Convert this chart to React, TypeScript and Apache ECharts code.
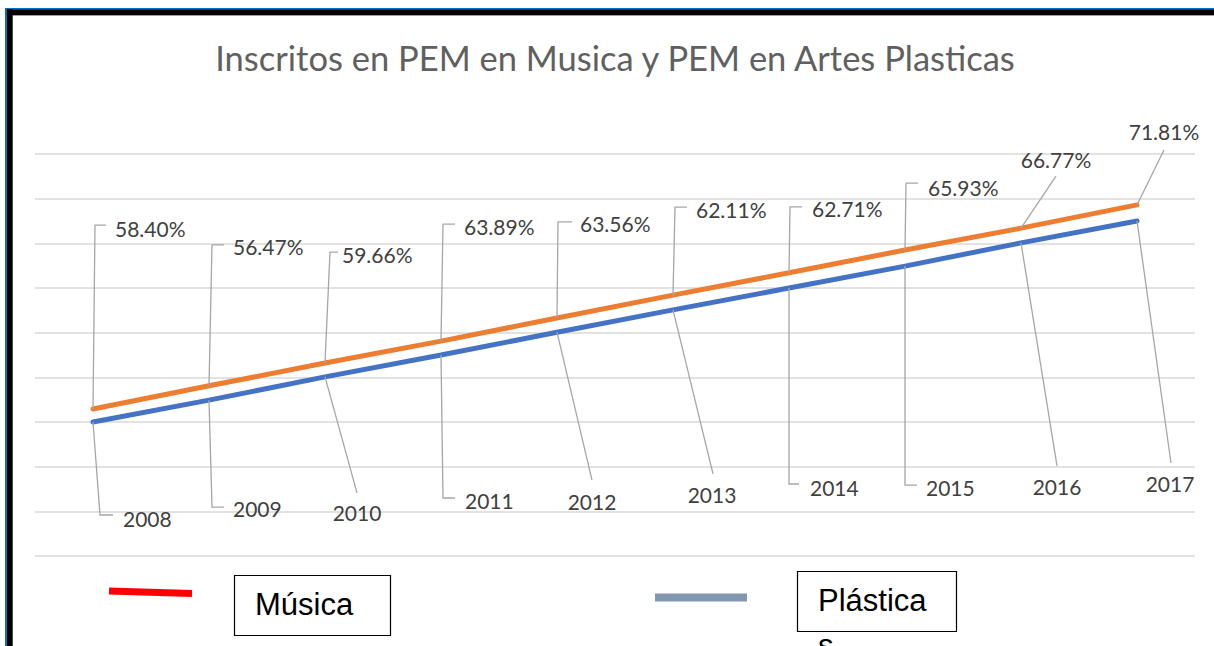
import React, { useEffect, useRef } from "react";
import * as echarts from "echarts";

const CATEGORIES = ["2008", "2009", "2010", "2011", "2012", "2013", "2014", "2015", "2016", "2017"];
const MUSICA = [32.9, 38.1, 43.2, 48.1, 53.3, 58.4, 63.4, 68.5, 73.4, 78.6];
const PLASTICA = [30.0, 34.9, 40.1, 45.0, 50.1, 55.1, 60.0, 64.9, 70.1, 75.0];
const PCT_LABELS = ["58.40%", "56.47%", "59.66%", "63.89%", "63.56%", "62.11%", "62.71%", "65.93%", "66.77%", "71.81%"];
const YEAR_LABELS = CATEGORIES;
const Y_MIN = 0;
const Y_MAX = 90;
const Y_STEP = 10;

// label placement (offsets relative to the data point, px)
type Lay = { k: "e" | "d"; lx: number; ly: number; h?: number; tx: number; ty: number };
const PCT_LAYOUT: Lay[] = [
  { k: "e", lx: 2, ly: -184, h: 11, tx: 22, ty: -181 },
  { k: "e", lx: 3, ly: -141, h: 12, tx: 24, ty: -139 },
  { k: "e", lx: 5, ly: -111, h: 8, tx: 17, ty: -109 },
  { k: "e", lx: 2, ly: -117, h: 12, tx: 23, ty: -115 },
  { k: "e", lx: 1, ly: -96, h: 14, tx: 23, ty: -94 },
  { k: "e", lx: 2, ly: -88, h: 12, tx: 23, ty: -86 },
  { k: "e", lx: 1, ly: -66, h: 12, tx: 23, ty: -64 },
  { k: "e", lx: 1, ly: -67, h: 12, tx: 23, ty: -63 },
  { k: "d", lx: 35, ly: -52, tx: 35, ty: -69 },
  { k: "d", lx: 27, ly: -55, tx: 27, ty: -73 },
];
const YEAR_LAYOUT: Lay[] = [
  { k: "e", lx: 7, ly: 93, h: 13, tx: 30, ty: 96 },
  { k: "e", lx: 3, ly: 107, h: 12, tx: 24, ty: 108 },
  { k: "d", lx: 32, ly: 116, tx: 32, ty: 136 },
  { k: "e", lx: 2, ly: 143, h: 12, tx: 24, ty: 145 },
  { k: "d", lx: 35, ly: 148, tx: 35, ty: 169 },
  { k: "d", lx: 40, ly: 164, tx: 39, ty: 185 },
  { k: "e", lx: 0, ly: 196, h: 10, tx: 21, ty: 199 },
  { k: "e", lx: 0, ly: 219, h: 12, tx: 21, ty: 221 },
  { k: "d", lx: 36, ly: 223, tx: 36, ty: 244 },
  { k: "d", lx: 34, ly: 242, tx: 33, ty: 262 },
];

const LABEL_FONT = "Lato";

function makeLabelRenderer(texts: string[], layout: Lay[]) {
  return (params: any, api: any) => {
    const i = api.value(0);
    const v = api.value(1);
    const p = api.coord([i, v]);
    const L = layout[params.dataIndex];
    const cx = p[0] + L.lx;
    const cy = p[1] + L.ly;
    const pts =
      L.k === "e"
        ? [
            [p[0], p[1]],
            [cx, cy],
            [cx + (L.h || 0), cy],
          ]
        : [
            [p[0], p[1]],
            [cx, cy],
          ];
    return {
      type: "group",
      children: [
        {
          type: "polyline",
          shape: { points: pts },
          style: { stroke: "#a6a6a6", lineWidth: 1.3, fill: null },
        },
        {
          type: "text",
          x: p[0] + L.tx,
          y: p[1] + L.ty,
          style: {
            text: texts[params.dataIndex],
            fontSize: 21,
            fontFamily: LABEL_FONT,
            fill: "#404040",
            align: L.k === "e" ? "left" : "center",
            verticalAlign: "middle",
          },
        },
      ],
    };
  };
}

export default function App() {
  const ref = useRef<HTMLDivElement>(null);
  useEffect(() => {
    if (!ref.current) return;
    const chart = echarts.init(ref.current, null, { renderer: "svg" });
    const option: any = {
      animation: false,
      backgroundColor: "#ffffff",
      grid: { left: 35, top: 154, width: 1160, height: 402 },
      xAxis: {
        type: "category",
        data: CATEGORIES,
        boundaryGap: true,
        axisLine: { show: false },
        axisTick: { show: false },
        axisLabel: { show: false },
        splitLine: { show: false },
      },
      yAxis: {
        type: "value",
        min: Y_MIN,
        max: Y_MAX,
        interval: Y_STEP,
        axisLine: { show: false },
        axisTick: { show: false },
        axisLabel: { show: false },
        splitLine: { show: true, lineStyle: { color: "#d9d9d9", width: 1.5 } },
      },
      series: [
        {
          name: "Plástica",
          type: "line",
          data: PLASTICA,
          symbol: "none",
          lineStyle: { color: "#4472c4", width: 5, cap: "round" },
          z: 2,
        },
        {
          name: "Música",
          type: "line",
          data: MUSICA,
          symbol: "none",
          lineStyle: { color: "#ed7d31", width: 5, cap: "round" },
          z: 2,
        },
        {
          type: "custom",
          clip: false,
          z: 5,
          data: MUSICA.map((v, i) => [i, v]),
          encode: { x: 0, y: 1 },
          renderItem: makeLabelRenderer(PCT_LABELS, PCT_LAYOUT),
        },
        {
          type: "custom",
          clip: false,
          z: 5,
          data: PLASTICA.map((v, i) => [i, v]),
          encode: { x: 0, y: 1 },
          renderItem: makeLabelRenderer(YEAR_LABELS, YEAR_LAYOUT),
        },
      ],
      graphic: [
        // frame
        { type: "rect", shape: { x: 5, y: 8, width: 1209, height: 1.2 }, style: { fill: "#0070c0" } },
        { type: "rect", shape: { x: 6.7, y: 9.2, width: 1208, height: 5.8 }, style: { fill: "#000000" } },
        { type: "rect", shape: { x: 12.7, y: 15, width: 1202, height: 1 }, style: { fill: "#a0a0a0" } },
        { type: "rect", shape: { x: 5, y: 8, width: 1.7, height: 638 }, style: { fill: "#0070c0" } },
        { type: "rect", shape: { x: 6.7, y: 9.2, width: 6, height: 637 }, style: { fill: "#000000" } },
        // title
        {
          type: "text",
          x: 615,
          y: 57,
          style: {
            text: "Inscritos en PEM en Musica y PEM en Artes Plasticas",
            fontSize: 34.5,
            fontFamily: "Lato",
            fill: "#606060",
            align: "center",
            verticalAlign: "middle",
          },
        },
        // legend: Música
        {
          type: "line",
          shape: { x1: 109, y1: 591, x2: 192, y2: 593.5 },
          style: { stroke: "#ff0000", lineWidth: 7, lineCap: "butt" },
        },
        {
          type: "rect",
          shape: { x: 234.5, y: 575.5, width: 156, height: 60 },
          style: { stroke: "#000000", lineWidth: 1.2, fill: "#ffffff" },
        },
        {
          type: "text",
          x: 255,
          y: 604,
          style: {
            text: "Música",
            fontSize: 31,
            fontFamily: "Liberation Sans",
            fill: "#000000",
            align: "left",
            verticalAlign: "middle",
          },
        },
        // legend: Plásticas
        {
          type: "line",
          shape: { x1: 655, y1: 597.5, x2: 747, y2: 597.5 },
          style: { stroke: "#8497b0", lineWidth: 8, lineCap: "butt" },
        },
        {
          type: "rect",
          shape: { x: 797.5, y: 571.5, width: 159, height: 60 },
          style: { stroke: "#000000", lineWidth: 1.2, fill: "#ffffff" },
        },
        {
          type: "text",
          x: 818,
          y: 600,
          style: {
            text: "Plástica",
            fontSize: 31,
            fontFamily: "Liberation Sans",
            fill: "#000000",
            align: "left",
            verticalAlign: "middle",
          },
        },
        {
          type: "text",
          x: 818,
          y: 645,
          style: {
            text: "s",
            fontSize: 31,
            fontFamily: "Liberation Sans",
            fill: "#000000",
            align: "left",
            verticalAlign: "middle",
          },
        },
      ],
    };
    chart.setOption(option);
    return () => chart.dispose();
  }, []);
  return (
    <div
      ref={ref}
      style={{ position: "absolute", left: 0, top: 0, width: 1214, height: 646, background: "#fff" }}
    />
  );
}
